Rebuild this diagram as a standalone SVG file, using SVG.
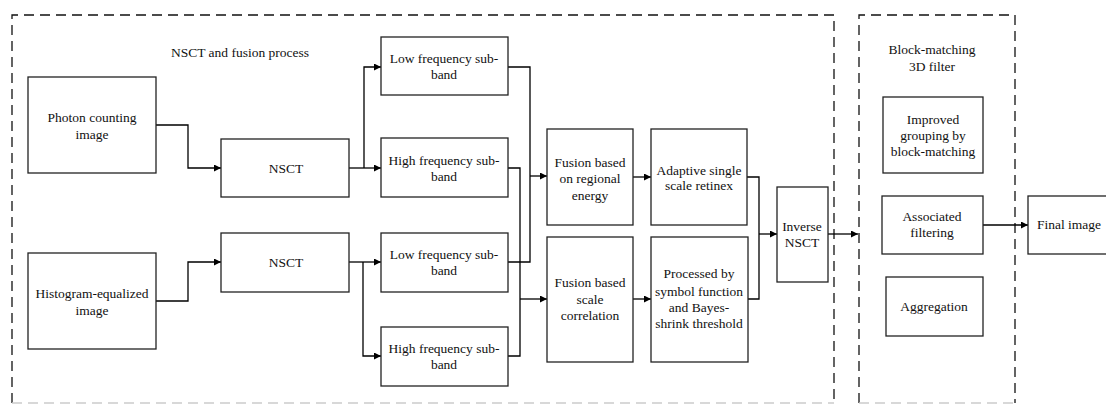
<svg xmlns="http://www.w3.org/2000/svg" width="1106" height="404" viewBox="0 0 1106 404">
  <style>
    .box { fill: #fff; stroke: #222; stroke-width: 1.3; }
    .frame { fill: none; stroke: #111; stroke-width: 1.3; stroke-dasharray: 10 6; }
    .frame-bottom { fill: none; stroke: #ccc; stroke-width: 1.3; stroke-dasharray: 10 6; }
    .wire { fill: none; stroke: #000; stroke-width: 1.3; }
    text { font-family: 'Liberation Serif', 'DejaVu Serif', serif; font-size: 13.5px; fill: #111; text-anchor: middle; }
  </style>
  <defs>
    <marker id="arrow" viewBox="0 0 10 10" refX="10" refY="5" markerWidth="7" markerHeight="7" markerUnits="userSpaceOnUse" orient="auto">
      <path d="M0,0 L10,5 L0,10 z" fill="#000"/>
    </marker>
  </defs>
  <rect width="1106" height="404" fill="#fff"/>

  <!-- dashed frames -->
  <g id="frames">
    <path class="frame" d="M12,403 V15 H834 V403"/>
    <path class="frame-bottom" d="M12,403 H834"/>
    <path class="frame" d="M859,403 V15 H1015 V403"/>
    <path class="frame-bottom" d="M859,403 H1015"/>
    <text x="240" y="57">NSCT and fusion process</text>
    <text x="932" y="54">Block-matching</text>
    <text x="932" y="71">3D filter</text>
  </g>

  <!-- connectors -->
  <g id="connectors">
    <path class="wire" marker-end="url(#arrow)" d="M156,125 H188 V168 H221"/>
    <path class="wire" marker-end="url(#arrow)" d="M156,301 H188 V262 H221"/>
    <path class="wire" marker-end="url(#arrow)" d="M349,168 H381"/>
    <path class="wire" marker-end="url(#arrow)" d="M364,168 V67 H381"/>
    <path class="wire" marker-end="url(#arrow)" d="M349,262 H381"/>
    <path class="wire" marker-end="url(#arrow)" d="M363,262 V356 H381"/>
    <path class="wire" d="M508,67 H530 V262 H508"/>
    <path class="wire" marker-end="url(#arrow)" d="M530,176 H547"/>
    <path class="wire" d="M508,168 H520 V356 H508"/>
    <path class="wire" marker-end="url(#arrow)" d="M520,299 H547"/>
    <path class="wire" marker-end="url(#arrow)" d="M633,177 H651"/>
    <path class="wire" marker-end="url(#arrow)" d="M633,299 H651"/>
    <path class="wire" d="M747,177 H759 V299 H748"/>
    <path class="wire" marker-end="url(#arrow)" d="M759,234 H777"/>
    <path class="wire" marker-end="url(#arrow)" d="M828,234 H858"/>
    <path class="wire" marker-end="url(#arrow)" d="M983,225 H1028"/>
  </g>

  <g id="photon">
    <rect class="box" x="28" y="77" width="128" height="96"/>
    <text x="92" y="122">Photon counting</text>
    <text x="92" y="139">image</text>
  </g>
  <g id="histogram">
    <rect class="box" x="28" y="253" width="128" height="96"/>
    <text x="92" y="298">Histogram-equalized</text>
    <text x="92" y="315">image</text>
  </g>
  <g id="nsct1">
    <rect class="box" x="221" y="139" width="128" height="58"/>
    <text x="286" y="173">NSCT</text>
  </g>
  <g id="nsct2">
    <rect class="box" x="221" y="233" width="128" height="59"/>
    <text x="286" y="267">NSCT</text>
  </g>
  <g id="low1">
    <rect class="box" x="381" y="37" width="127" height="58"/>
    <text x="444" y="63">Low frequency sub-</text>
    <text x="444" y="79">band</text>
  </g>
  <g id="high1">
    <rect class="box" x="381" y="138" width="127" height="59"/>
    <text x="444" y="165">High frequency sub-</text>
    <text x="444" y="181">band</text>
  </g>
  <g id="low2">
    <rect class="box" x="381" y="233" width="127" height="59"/>
    <text x="444" y="259">Low frequency sub-</text>
    <text x="444" y="275">band</text>
  </g>
  <g id="high2">
    <rect class="box" x="381" y="327" width="127" height="59"/>
    <text x="444" y="353">High frequency sub-</text>
    <text x="444" y="369">band</text>
  </g>
  <g id="fusion-energy">
    <rect class="box" x="547" y="129" width="86" height="96"/>
    <text x="590" y="167">Fusion based</text>
    <text x="590" y="183">on regional</text>
    <text x="590" y="200">energy</text>
  </g>
  <g id="fusion-scale">
    <rect class="box" x="547" y="237" width="86" height="125"/>
    <text x="590" y="287">Fusion based</text>
    <text x="590" y="304">scale</text>
    <text x="590" y="320">correlation</text>
  </g>
  <g id="retinex">
    <rect class="box" x="651" y="129" width="96" height="96"/>
    <text x="699" y="175">Adaptive single</text>
    <text x="699" y="190">scale retinex</text>
  </g>
  <g id="bayes">
    <rect class="box" x="651" y="237" width="97" height="125"/>
    <text x="699" y="278">Processed by</text>
    <text x="699" y="296">symbol function</text>
    <text x="699" y="312">and Bayes-</text>
    <text x="699" y="328">shrink threshold</text>
  </g>
  <g id="inverse-nsct">
    <rect class="box" x="777" y="187" width="51" height="95"/>
    <text x="802" y="231">Inverse</text>
    <text x="802" y="247">NSCT</text>
  </g>
  <g id="grouping">
    <rect class="box" x="883" y="97" width="100" height="76"/>
    <text x="933" y="124">Improved</text>
    <text x="933" y="140">grouping  by</text>
    <text x="933" y="156">block-matching</text>
  </g>
  <g id="filtering">
    <rect class="box" x="882" y="196" width="101" height="58"/>
    <text x="932" y="221">Associated</text>
    <text x="932" y="237">filtering</text>
  </g>
  <g id="aggregation">
    <rect class="box" x="886" y="277" width="97" height="59"/>
    <text x="934" y="311">Aggregation</text>
  </g>
  <g id="final">
    <rect class="box" x="1028" y="196" width="80" height="58"/>
    <text x="1069" y="229">Final image</text>
  </g>
</svg>
